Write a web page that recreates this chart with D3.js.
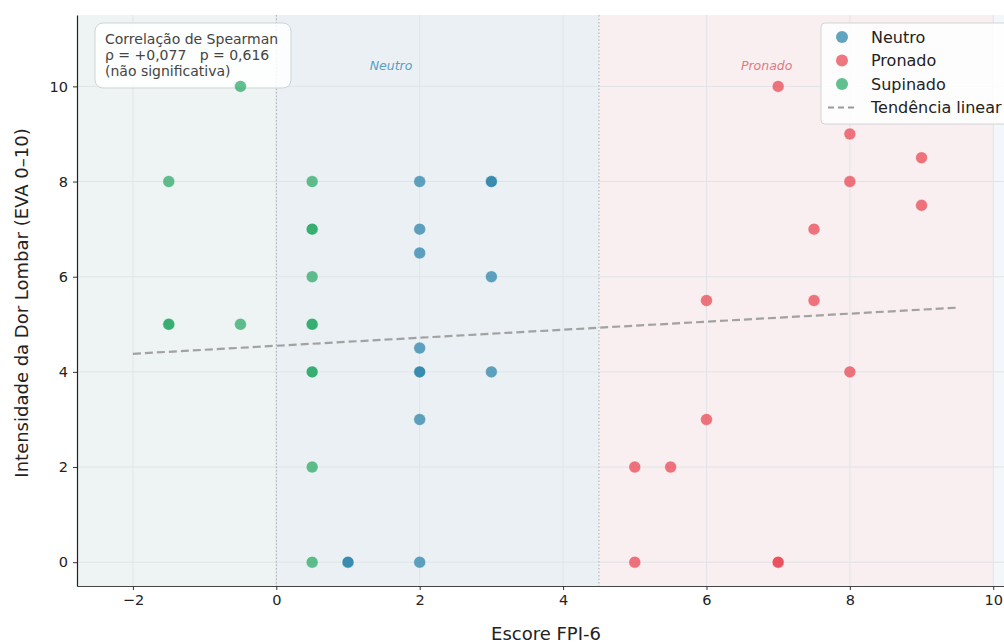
<!DOCTYPE html>
<html><head><meta charset="utf-8">
<script src="https://cdn.jsdelivr.net/npm/d3@7"></script>
<style>body{margin:0;background:#fff}svg{display:block;font-family:"DejaVu Sans",sans-serif}</style>
</head><body>
<svg id="c" width="1004" height="644"></svg>
<script>
// Data
const supinadoX = [-0.5, -1.5, 0.5, 0.5, 0.5, 0.5, -1.5, -1.5, -0.5, 0.5, 0.5, 0.5, 0.5, 0.5, 0.5];
const supinadoY = [10, 8, 8, 7, 7, 6, 5, 5, 5, 5, 5, 4, 4, 2, 0];
const neutroX = [2, 3, 3, 2, 2, 3, 2, 2, 2, 3, 2, 1, 1, 2];
const neutroY = [8, 8, 8, 7, 6.5, 6, 4.5, 4, 4, 4, 3, 0, 0, 0];
const pronadoX = [7, 8, 9, 8, 9, 7.5, 6, 7.5, 8, 6, 5, 5.5, 5, 7, 7];
const pronadoY = [10, 9, 8.5, 8, 7.5, 7, 5.5, 5.5, 4, 3, 2, 2, 0, 0, 0];
const trendX = [-2, 9.5];
const trendY = [4.38, 5.35];
const xTicks = [-2, 0, 2, 4, 6, 8, 10];
const yTicks = [0, 2, 4, 6, 8, 10];
const regionNames = ["Neutro", "Pronado"];
const regionLabelX = [1.6, 6.84];
const regionBounds = [-2.78, 0, 4.5, 10];
const annotationLines = ["Correlação de Spearman", "ρ = +0,077   p = 0,616", "(não significativa)"];
const legendLabels = ["Neutro", "Pronado", "Supinado", "Tendência linear"];

const colors = {Neutro: "#2E86AB", Pronado: "#E84855", Supinado: "#2EAA6A"};
const svg = d3.select("#c");
const L = 77, R = 1004, T = 15, B = 586;
const x = d3.scaleLinear().domain([-2.78, 10.15]).range([L, R]);
const y = d3.scaleLinear().domain([-0.5, 11.5]).range([B, T]);

// backgrounds
svg.append("rect").attr("x", L).attr("y", T).attr("width", R - L).attr("height", B - T).attr("fill", "#f3f7f9");
const spanFills = ["#eef4f3", "#ebf0f4", "#f9eff0"];
for (let i = 0; i < 3; i++) {
  svg.append("rect").attr("x", x(regionBounds[i])).attr("y", T)
    .attr("width", x(regionBounds[i + 1]) - x(regionBounds[i])).attr("height", B - T)
    .attr("fill", spanFills[i]);
}
// grid
const g = svg.append("g");
g.selectAll(".gx").data(xTicks).join("line").attr("x1", d => x(d)).attr("x2", d => x(d))
  .attr("y1", T).attr("y2", B).attr("stroke", "#e0e4e7").attr("stroke-width", 1);
g.selectAll(".gy").data(yTicks).join("line").attr("y1", d => y(d)).attr("y2", d => y(d))
  .attr("x1", L).attr("x2", R).attr("stroke", "#e0e4e7").attr("stroke-width", 1);
// boundary lines
[0, 4.5].forEach(v => svg.append("line").attr("x1", x(v)).attr("x2", x(v)).attr("y1", T).attr("y2", B)
  .attr("stroke", "#aab0b4").attr("stroke-width", 1).attr("stroke-dasharray", "1.5,2"));
// region labels
regionNames.forEach((n, i) => svg.append("text").attr("x", x(regionLabelX[i])).attr("y", y(10.35))
  .attr("text-anchor", "middle").attr("font-size", 12.5).attr("font-style", "italic")
  .attr("fill", n === "Neutro" ? "#5a9fc2" : "#de7a84").text(n));
// annotation box
svg.append("rect").attr("x", 95).attr("y", 23).attr("width", 196).attr("height", 65).attr("rx", 8)
  .attr("fill", "#fff").attr("fill-opacity", 0.85).attr("stroke", "#cfd3d6").attr("stroke-width", 1);
annotationLines.forEach((t, i) => svg.append("text").attr("x", 105).attr("y", 44 + i * 16)
  .attr("font-size", 14).attr("fill", "#444").style("white-space", "pre").text(t));
// trend
svg.append("line").attr("x1", x(trendX[0])).attr("y1", y(trendY[0])).attr("x2", x(trendX[1])).attr("y2", y(trendY[1]))
  .attr("stroke", "#9a9a9a").attr("stroke-width", 2.2).attr("stroke-dasharray", "8,4").attr("opacity", 0.9);
// points
function pts(xs, ys, name) {
  svg.append("g").selectAll("circle").data(xs.map((v, i) => [v, ys[i]])).join("circle")
    .attr("cx", d => x(d[0])).attr("cy", d => y(d[1])).attr("r", 6)
    .attr("fill", colors[name]).attr("fill-opacity", 0.75)
    .attr("stroke", "#fff").attr("stroke-opacity", 0.6).attr("stroke-width", 0.8);
}
pts(neutroX, neutroY, "Neutro");
pts(pronadoX, pronadoY, "Pronado");
pts(supinadoX, supinadoY, "Supinado");

// axes
const ax = svg.append("g").attr("transform", `translate(0,${B})`)
  .call(d3.axisBottom(x).tickValues(xTicks).tickSize(4).tickSizeOuter(0).tickPadding(5).tickFormat(d => d < 0 ? "−" + Math.abs(d) : d));
const ay = svg.append("g").attr("transform", `translate(${L},0)`)
  .call(d3.axisLeft(y).tickValues(yTicks).tickSize(4).tickSizeOuter(0).tickPadding(5));
[ax, ay].forEach(a => {
  a.selectAll("text").attr("font-size", 14.5).attr("fill", "#222").attr("font-family", "DejaVu Sans");
  a.selectAll(".tick line").attr("stroke", "#333");
});
ax.select(".domain").attr("stroke", "#444").attr("stroke-width", 1.2);
ay.select(".domain").attr("stroke", "#222").attr("stroke-width", 1.2);
svg.append("text").attr("x", 546).attr("y", 640).attr("text-anchor", "middle")
  .attr("font-size", 18).attr("fill", "#222").text("Escore FPI-6");
svg.append("text").attr("transform", `translate(28,303) rotate(-90)`).attr("text-anchor", "middle")
  .attr("font-size", 18).attr("fill", "#222").text("Intensidade da Dor Lombar (EVA 0–10)");

// legend
const lg = svg.append("g");
lg.append("rect").attr("x", 821).attr("y", 23).attr("width", 200).attr("height", 101).attr("rx", 4)
  .attr("fill", "#fff").attr("fill-opacity", 0.85).attr("stroke", "#d0d4d7");
legendLabels.forEach((t, i) => {
  const yy = 37 + i * 23.5;
  if (i < 3) {
    lg.append("circle").attr("cx", 842).attr("cy", yy).attr("r", 6)
      .attr("fill", colors[t]).attr("fill-opacity", 0.75);
  } else {
    lg.append("line").attr("x1", 828).attr("x2", 857).attr("y1", yy).attr("y2", yy)
      .attr("stroke", "#9a9a9a").attr("stroke-width", 2).attr("stroke-dasharray", "6,4");
  }
  lg.append("text").attr("x", 871).attr("y", yy + 5.5).attr("font-size", 16).attr("fill", "#222").text(t);
});
</script>
</body></html>
